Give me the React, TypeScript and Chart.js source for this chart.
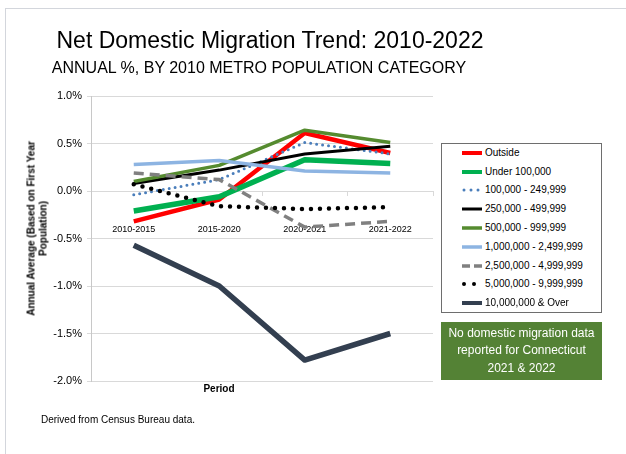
import React, { useEffect, useRef } from "react";
import { Chart, registerables } from "chart.js";

Chart.register(...registerables);

// ---------- data ----------
const periods = ["2010-2015", "2015-2020", "2020-2021", "2021-2022"];

const seriesNames = [
  "Outside",
  "Under 100,000",
  "100,000 - 249,999",
  "250,000 - 499,999",
  "500,000 - 999,999",
  "1,000,000 - 2,499,999",
  "2,500,000 - 4,999,999",
  "5,000,000 - 9,999,999",
  "10,000,000 & Over",
];

const outside = [-0.32, -0.09, 0.61, 0.4];
const under100k = [-0.21, -0.06, 0.33, 0.29];
const from100k = [-0.04, 0.12, 0.51, 0.39];
const from250k = [0.08, 0.22, 0.39, 0.47];
const from500k = [0.1, 0.27, 0.64, 0.51];
const from1m = [0.28, 0.32, 0.21, 0.19];
const from2_5m = [0.19, 0.12, -0.38, -0.32];
const from5m = [0.07, -0.16, -0.19, -0.17];
const over10m = [-0.57, -1.0, -1.78, -1.5];

const seriesValues = [outside, under100k, from100k, from250k, from500k, from1m, from2_5m, from5m, over10m];

const yMin = -2.0;
const yMax = 1.0;
const yStep = 0.5;

const titleText = "Net Domestic Migration Trend: 2010-2022";
const subtitleText = "ANNUAL %, BY 2010 METRO POPULATION CATEGORY";
const yTitleLines = ["Annual Average (Based on First Year", "Population)"];
const xTitleText = "Period";
const noteLines = ["No domestic migration data", "reported for Connecticut", "2021 & 2022"];
const footnoteText = "Derived from Census Bureau data.";

// ---------- styles ----------
type LineStyle = { color: string; width: number; dash: number[]; cap: "butt" | "round"; legendDash: string; legendX1: number };
const seriesStyles: LineStyle[] = [
  { color: "#FF0000", width: 4.5, dash: [], cap: "butt", legendDash: "", legendX1: 0 },
  { color: "#00B050", width: 5.5, dash: [], cap: "butt", legendDash: "", legendX1: 0 },
  { color: "#4A7EBB", width: 3, dash: [0, 6], cap: "round", legendDash: "0 7", legendX1: 2 },
  { color: "#000000", width: 3, dash: [], cap: "butt", legendDash: "", legendX1: 0 },
  { color: "#558B2F", width: 3.5, dash: [], cap: "butt", legendDash: "", legendX1: 0 },
  { color: "#8DB4E2", width: 3.5, dash: [], cap: "butt", legendDash: "", legendX1: 0 },
  { color: "#808080", width: 3.5, dash: [10, 6], cap: "butt", legendDash: "8 4", legendX1: 0 },
  { color: "#000000", width: 4.5, dash: [0, 9], cap: "round", legendDash: "0 10", legendX1: 2 },
  { color: "#333F50", width: 5.5, dash: [], cap: "butt", legendDash: "", legendX1: 0 },
];

const FONT = '"Liberation Sans", Arial, Helvetica, sans-serif';
const GRID = "#D9D9D9";

export default function App() {
  const canvasRef = useRef<HTMLCanvasElement>(null);

  useEffect(() => {
    const n = seriesValues.length;
    const chart = new Chart(canvasRef.current as HTMLCanvasElement, {
      type: "line",
      data: {
        labels: periods,
        datasets: seriesValues.map((vals, i) => ({
          label: seriesNames[i],
          data: vals,
          borderColor: seriesStyles[i].color,
          backgroundColor: seriesStyles[i].color,
          borderWidth: seriesStyles[i].width,
          borderDash: seriesStyles[i].dash,
          borderCapStyle: seriesStyles[i].cap,
          borderJoinStyle: "round",
          pointRadius: 0,
          pointHoverRadius: 0,
          tension: 0,
          fill: false,
          order: n - i,
        })),
      },
      options: {
        responsive: false,
        animation: false,
        devicePixelRatio: 1,
        events: [],
        layout: { padding: { left: 0, top: 96, right: 193, bottom: 73 } },
        plugins: {
          legend: { display: false },
          title: { display: false },
          tooltip: { enabled: false },
        },
        scales: {
          x: {
            type: "category",
            position: { y: 0 },
            offset: true,
            grid: {
              display: true,
              drawOnChartArea: false,
              drawTicks: true,
              tickLength: 4,
              offset: true,
              color: GRID,
            },
            border: { display: true, color: GRID, width: 1 },
            ticks: {
              font: { size: 9, family: FONT },
              color: "#000",
              padding: 29,
              maxRotation: 0,
              autoSkip: false,
            },
          },
          y: {
            min: yMin,
            max: yMax,
            afterFit: (scale: any) => {
              scale.width = 91;
            },
            grid: { color: GRID, tickLength: 4, drawTicks: true },
            border: { display: true, color: "#C8C8C8" },
            ticks: {
              stepSize: yStep,
              padding: 5,
              font: { size: 11, family: FONT },
              color: "#000",
              callback: (v: any) => `${Number(v).toFixed(1)}%`,
            },
          },
        },
      } as any,
    });
    return () => chart.destroy();
  }, []);

  const abs = (o: React.CSSProperties): React.CSSProperties => ({ position: "absolute", ...o });

  return (
    <div
      style={{
        position: "fixed",
        left: 0,
        top: 0,
        width: 626,
        height: 454,
        background: "#fff",
        overflow: "hidden",
        fontFamily: FONT,
        color: "#000",
      }}
    >
      <div style={abs({ left: 5, top: 8, width: 621, height: 1, background: "#D3D6DC" })} />
      <div style={abs({ left: 5, top: 8, width: 1, height: 446, background: "#D3D6DC" })} />
      <canvas ref={canvasRef} width={626} height={454} style={abs({ left: 0, top: 0, width: 626, height: 454 })} />

      <div style={abs({ left: 270 - 300, top: 29, width: 600, textAlign: "center", fontSize: 23, lineHeight: "23px", whiteSpace: "nowrap" })}>
        {titleText}
      </div>
      <div style={abs({ left: 259 - 300, top: 60, width: 600, textAlign: "center", fontSize: 16, lineHeight: "16px", whiteSpace: "nowrap" })}>
        {subtitleText}
      </div>

      <div
        style={abs({
          left: 37.4 - 100,
          top: 228 - 11.5,
          width: 200,
          height: 23,
          transform: "rotate(-90deg)",
          textAlign: "center",
          fontWeight: "bold",
          fontSize: 10,
          lineHeight: "11.5px",
          whiteSpace: "nowrap",
        })}
      >
        {yTitleLines.map((l, i) => (
          <div key={i}>{l}</div>
        ))}
      </div>

      <div style={abs({ left: 219 - 50, top: 383, width: 100, textAlign: "center", fontWeight: "bold", fontSize: 10, lineHeight: "12px" })}>
        {xTitleText}
      </div>

      <div style={abs({ left: 41, top: 414, fontSize: 10, lineHeight: "12px", whiteSpace: "nowrap" })}>{footnoteText}</div>

      <div
        style={abs({
          left: 441,
          top: 143,
          width: 161,
          height: 170,
          boxSizing: "border-box",
          border: "1px solid #6E6E6E",
          background: "#fff",
        })}
      >
        {seriesNames.map((name, i) => {
          const s = seriesStyles[i];
          return (
            <div
              key={i}
              style={abs({ left: 20, top: -0.6 + i * 18.8, height: 18.8, display: "flex", alignItems: "center", whiteSpace: "nowrap" })}
            >
              <svg width={20} height={10} style={{ display: "block" }}>
                <line
                  x1={s.legendX1}
                  y1={5}
                  x2={20}
                  y2={5}
                  stroke={s.color}
                  strokeWidth={Math.min(s.width, 4)}
                  strokeDasharray={s.legendDash || undefined}
                  strokeLinecap={s.cap}
                />
              </svg>
              <span style={{ marginLeft: 3, fontSize: 10, lineHeight: "12px" }}>{name}</span>
            </div>
          );
        })}
      </div>

      <div
        style={abs({
          left: 441,
          top: 322,
          width: 161,
          height: 58,
          background: "#548235",
          color: "#fff",
          fontSize: 12,
          lineHeight: "17.5px",
          display: "flex",
          flexDirection: "column",
          justifyContent: "center",
          alignItems: "center",
          textAlign: "center",
        })}
      >
        {noteLines.map((l, i) => (
          <div key={i} style={{ whiteSpace: "nowrap" }}>
            {l}
          </div>
        ))}
      </div>
    </div>
  );
}
